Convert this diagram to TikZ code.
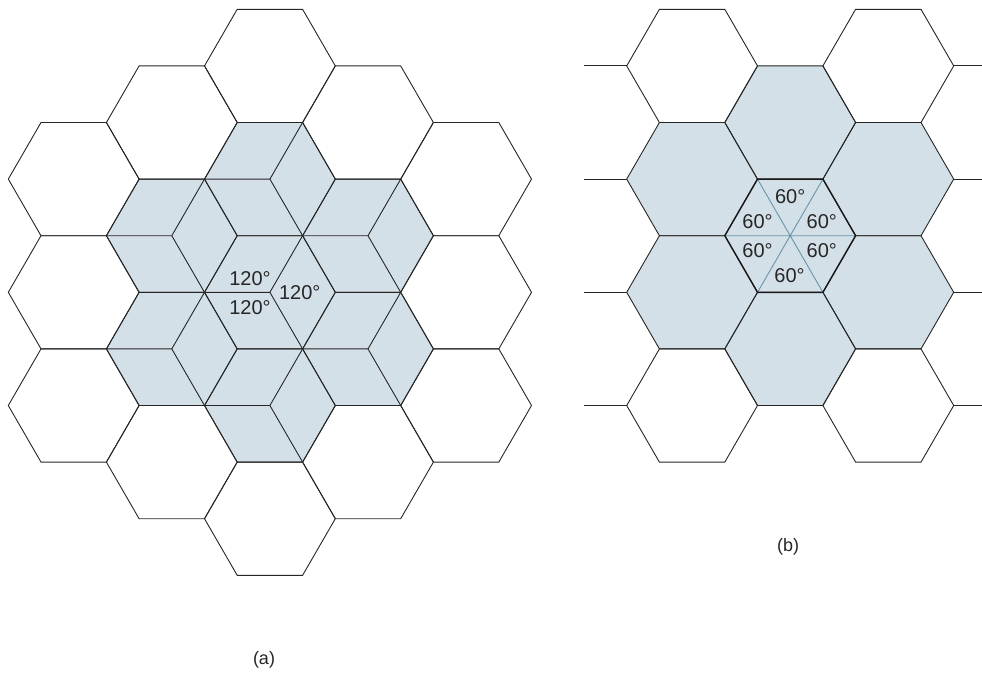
\documentclass[tikz,border=0pt]{standalone}
\usepackage{fontspec}
\setmainfont{Liberation Sans}
\definecolor{cellfill}{RGB}{212,224,231}
\definecolor{diagblue}{RGB}{102,150,172}
\tikzset{
  edge/.style={draw=black!85, line width=0.9pt},
  hexw/.pic={\draw[edge] (-65.4,0) -- (-32.7,-56.6) -- (32.7,-56.6) -- (65.4,0) -- (32.7,56.6) -- (-32.7,56.6) -- cycle;},
  hexf/.pic={\fill[cellfill] (-65.4,0) -- (-32.7,-56.6) -- (32.7,-56.6) -- (65.4,0) -- (32.7,56.6) -- (-32.7,56.6) -- cycle;},
  hexbold/.pic={\draw[draw=black!90, line width=1.4pt] (-65.4,0) -- (-32.7,-56.6) -- (32.7,-56.6) -- (65.4,0) -- (32.7,56.6) -- (-32.7,56.6) -- cycle;},
  lozenge/.pic={\draw[edge] (-65.4,0) -- (0,0) -- (32.7,-56.6) (0,0) -- (32.7,56.6);},
  anglabel/.style={font=\fontsize{20}{24}\selectfont, text=black!85, inner sep=0pt},
  caption/.style={font=\fontsize{18}{21}\selectfont, text=black!85, inner sep=0pt}
}
\begin{document}
\begin{tikzpicture}[x=1pt,y=-1pt]
\useasboundingbox (0,0) rectangle (982,672);
% ---------- (a) ----------
\foreach \cx/\cy in {171.8/235.7, 171.8/348.9, 269.9/179.1, 269.9/292.3, 269.9/405.5, 368.0/235.7, 368.0/348.9}
  {\pic at (\cx,\cy) {hexf};}
\foreach \cx/\cy in {73.7/179.1, 73.7/292.3, 73.7/405.5,
  171.8/122.5, 171.8/235.7, 171.8/348.9, 171.8/462.1,
  269.9/65.9, 269.9/179.1, 269.9/292.3, 269.9/405.5, 269.9/518.7,
  368.0/122.5, 368.0/235.7, 368.0/348.9, 368.0/462.1,
  466.1/179.1, 466.1/292.3, 466.1/405.5}
  {\pic at (\cx,\cy) {hexw};}
\foreach \cx/\cy in {171.8/235.7, 171.8/348.9, 269.9/179.1, 269.9/292.3, 269.9/405.5, 368.0/235.7, 368.0/348.9}
  {\pic at (\cx,\cy) {lozenge};}
\node[anglabel] (a1) at (250,279) {120°};
\node[anglabel] (a2) at (250,307.5) {120°};
\node[anglabel] (a3) at (299.7,292.5) {120°};
\node[caption] (capa) at (264,660) {(a)};
% ---------- (b) ----------
\foreach \cx/\cy in {692.1/179.1, 692.1/292.3, 790.2/122.5, 790.2/235.7, 790.2/348.9, 888.3/179.1, 888.3/292.3}
  {\pic at (\cx,\cy) {hexf};}
\foreach \cx/\cy in {692.1/65.9, 692.1/179.1, 692.1/292.3, 692.1/405.5,
  790.2/122.5, 790.2/348.9,
  888.3/65.9, 888.3/179.1, 888.3/292.3, 888.3/405.5}
  {\pic at (\cx,\cy) {hexw};}
\foreach \yy in {65.9, 179.1, 292.3, 405.5}
  {\draw[edge] (584,\yy) -- (626.7,\yy);
   \draw[edge] (953.7,\yy) -- (982,\yy);}
\draw[diagblue, line width=0.9pt] (724.8,235.7) -- (855.6,235.7)
  (757.5,179.1) -- (822.9,292.3) (822.9,179.1) -- (757.5,292.3);
\pic at (790.2,235.7) {hexbold};
\node[anglabel] (b1) at (790.2,197) {60°};
\node[anglabel] (b2) at (757.5,222) {60°};
\node[anglabel] (b3) at (821.8,222) {60°};
\node[anglabel] (b4) at (757.5,251) {60°};
\node[anglabel] (b5) at (821.8,251) {60°};
\node[anglabel] (b6) at (789.5,276) {60°};
\node[caption] (capb) at (788,546.5) {(b)};
\end{tikzpicture}
\end{document}
